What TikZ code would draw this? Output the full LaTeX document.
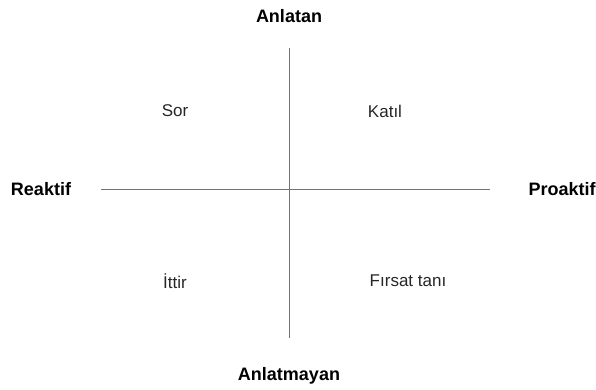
\documentclass[tikz,border=0pt]{standalone}
\usepackage{fontspec}
\setmainfont{Liberation Sans}
\begin{document}
\begin{tikzpicture}[x=1pt,y=-1pt,
  axis/.style={draw=black!55,line width=1pt},
  pole/.style={font=\fontsize{18}{21}\selectfont\bfseries,inner sep=0pt},
  quad/.style={font=\fontsize{17}{20}\selectfont,inner sep=0pt,text=black!85}]
\useasboundingbox (0,0) rectangle (596,389);
\node[pole] (top) at (289,16) {Anlatan};
\node[pole] (bot) at (289,376) {Anlatmayan};
\node[pole] (left) at (41,189) {Reaktif};
\node[pole] (right) at (562,189) {Proaktif};
\coordinate (vt) at (289,48);
\coordinate (vb) at (289,338);
\coordinate (hl) at (101,189);
\coordinate (hr) at (490,189);
\draw[axis] (vt) -- (vb);
\draw[axis] (hl) -- (hr);
\node[quad] (sor) at (175,111) {Sor};
\node[quad] (katil) at (385,111) {Katıl};
\node[quad] (ittir) at (175,281) {İttir};
\node[quad] (firsat) at (408,281) {Fırsat tanı};
\end{tikzpicture}
\end{document}
